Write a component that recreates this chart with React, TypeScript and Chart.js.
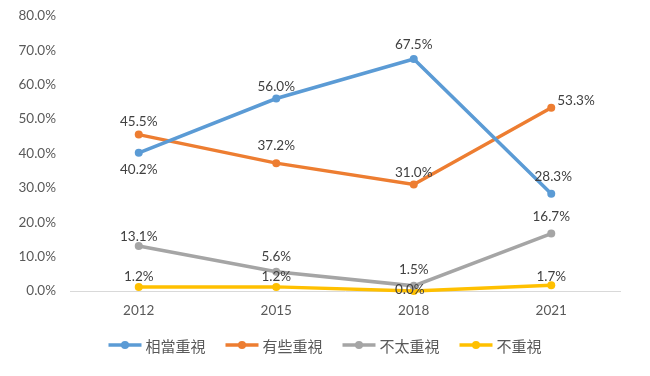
import React, { useEffect, useRef } from "react";
import { Chart, registerables } from "chart.js";

Chart.register(...registerables);

const categories = ["2012", "2015", "2018", "2021"];
const seriesNames = ["相當重視", "有些重視", "不太重視", "不重視"];
const highly = [40.2, 56.0, 67.5, 28.3];
const somewhat = [45.5, 37.2, 31.0, 53.3];
const notMuch = [13.1, 5.6, 1.5, 16.7];
const notAtAll = [1.2, 1.2, 0.0, 1.7];
const colors = ["#5B9BD5", "#ED7D31", "#A5A5A5", "#FFC000"];
// label offsets (dx, dy) per series/point, "L" = left-aligned to the right of the point
const labelOffsets: [number, number, string?][][] = [
  [[0, 17], [0, -12], [0, -14], [2, -17]],
  [[0, -13], [0, -17], [0, -12], [6, -7, "L"]],
  [[0, -9], [0, -15], [0, -16], [0, -17]],
  [[0, -10], [0, -10], [-4, -1], [0, -9]],
];

const FONT = "Lato, 'Noto Sans', sans-serif";

const labelPlugin = {
  id: "dataLabels",
  afterDatasetsDraw(chart: any) {
    const ctx = chart.ctx;
    ctx.save();
    ctx.font = `13.5px ${FONT}`;
    ctx.fillStyle = "#404040";
    ctx.textBaseline = "middle";
    chart.data.datasets.forEach((ds: any, i: number) => {
      const meta = chart.getDatasetMeta(i);
      meta.data.forEach((pt: any, j: number) => {
        const v = ds.data[j];
        const txt = v.toFixed(1) + "%";
        const [dx, dy, align] = labelOffsets[i][j];
        ctx.textAlign = align === "L" ? "left" : "center";
        ctx.fillText(txt, pt.x + dx, pt.y + dy);
      });
    });
    ctx.restore();
  },
};

const legendPlugin = {
  id: "customLegend",
  afterDraw(chart: any) {
    const ctx = chart.ctx;
    ctx.save();
    ctx.font = `15px 'Noto Sans CJK TC', sans-serif`;
    ctx.textBaseline = "middle";
    ctx.textAlign = "left";
    const y = 345;
    const widths = seriesNames.map((n) => ctx.measureText(n).width);
    const lineW = 33, gap = 4, itemGap = 20;
    const total = widths.reduce((a, w) => a + lineW + gap + w, 0) + itemGap * (seriesNames.length - 1);
    let x = (chart.width - total) / 2;
    seriesNames.forEach((n, i) => {
      ctx.strokeStyle = colors[i];
      ctx.lineWidth = 3.5;
      ctx.beginPath();
      ctx.moveTo(x, y);
      ctx.lineTo(x + lineW, y);
      ctx.stroke();
      ctx.fillStyle = colors[i];
      ctx.beginPath();
      ctx.arc(x + lineW / 2, y, 4, 0, Math.PI * 2);
      ctx.fill();
      ctx.fillStyle = "#595959";
      ctx.fillText(n, x + lineW + gap, y + 1);
      x += lineW + gap + widths[i] + itemGap;
    });
    ctx.restore();
  },
};

export default function App() {
  const ref = useRef<HTMLCanvasElement>(null);
  useEffect(() => {
    const data = [highly, somewhat, notMuch, notAtAll];
    const chart = new Chart(ref.current!, {
      type: "line",
      data: {
        labels: categories,
        datasets: seriesNames.map((n, i) => ({
          label: n,
          data: data[i],
          borderColor: colors[i],
          backgroundColor: colors[i],
          borderWidth: 3.5,
          pointRadius: 4,
          pointBackgroundColor: colors[i],
          pointBorderWidth: 0,
          tension: 0,
          clip: false as any,
        })),
      },
      options: {
        animation: false,
        responsive: false,
        layout: { padding: { top: 16, right: 30, bottom: 50, left: 0 } },
        plugins: { legend: { display: false }, tooltip: { enabled: false } },
        scales: {
          x: {
            offset: true,
            grid: { display: false, drawTicks: false },
            border: { display: true, color: "#D9D9D9", width: 1 },
            ticks: { color: "#595959", font: { family: FONT, size: 13.5 }, padding: 12 },
            afterFit: (s: any) => { s.height = 35; s.paddingLeft = 0; s.paddingRight = 0; },
          },
          y: {
            min: 0,
            max: 80,
            grid: { display: false, drawTicks: false },
            border: { display: false },
            ticks: {
              stepSize: 10,
              color: "#595959",
              font: { family: FONT, size: 13.5 },
              padding: 14,
              callback: (v: any) => Number(v).toFixed(1) + "%",
            },
            afterFit: (s: any) => { s.width = 70; s.paddingTop = 0; s.paddingBottom = 0; },
          },
        },
      },
      plugins: [labelPlugin, legendPlugin],
    });
    return () => chart.destroy();
  }, []);
  return (
    <div style={{ position: "fixed", left: 0, top: 0, width: 650, height: 376, background: "#fff" }}>
      <canvas ref={ref} width={650} height={376} style={{ width: 650, height: 376 }} />
    </div>
  );
}
